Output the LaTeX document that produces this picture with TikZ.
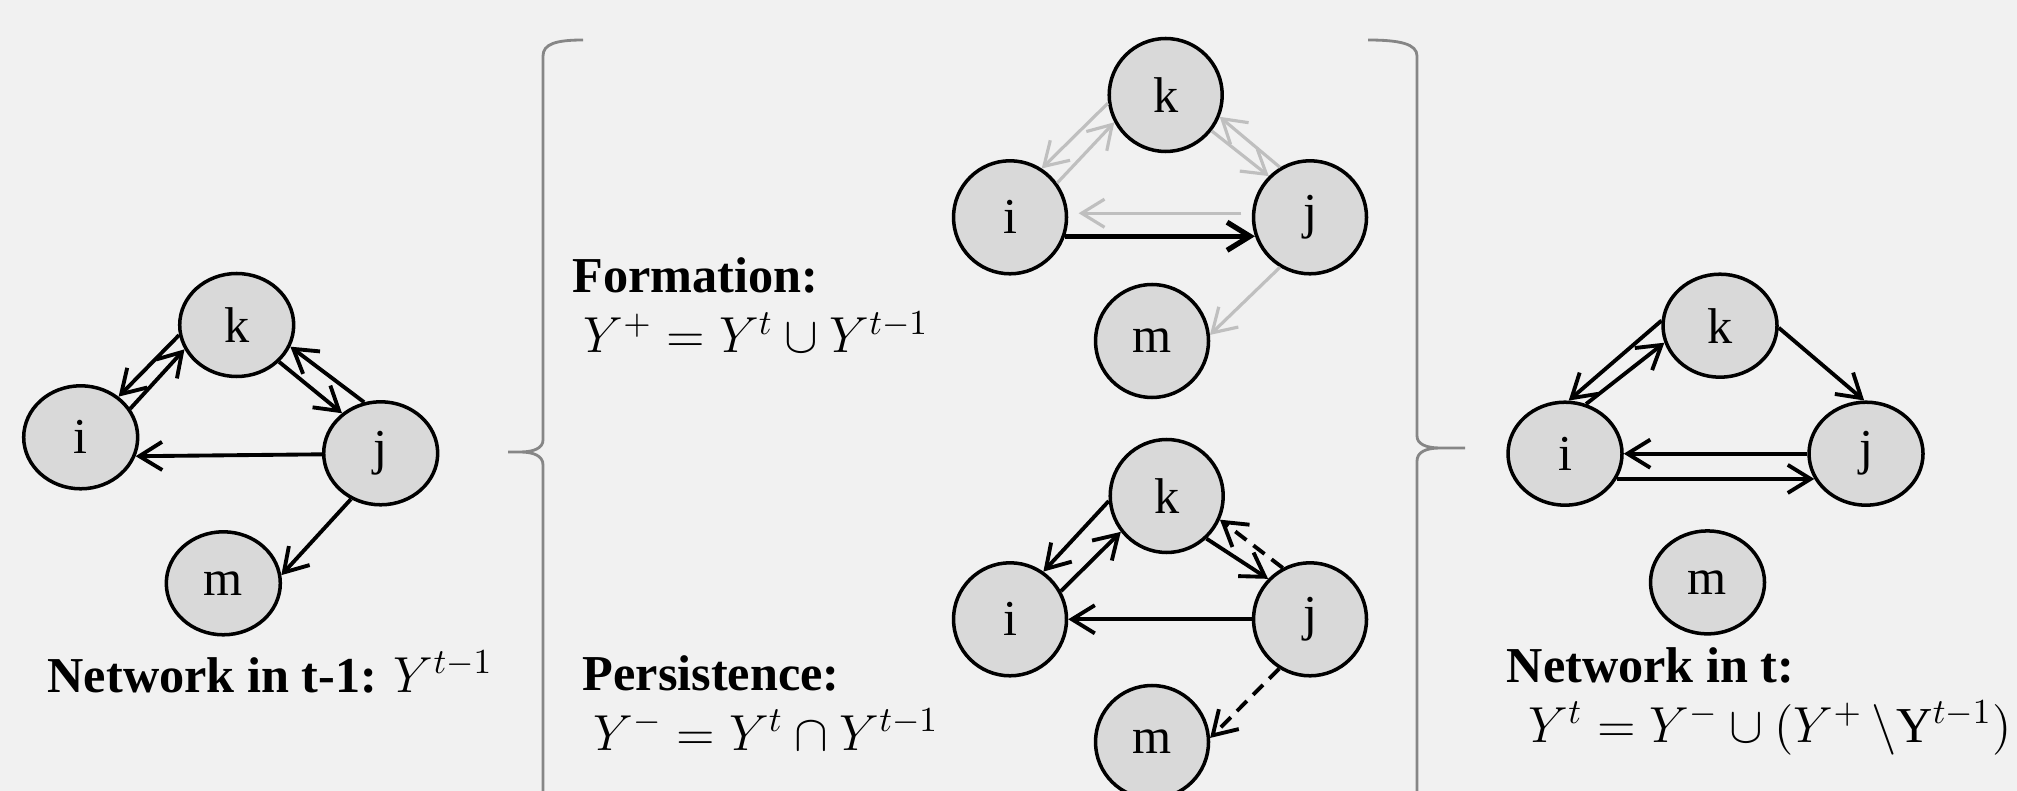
\documentclass[tikz,border=0pt]{standalone}
\usepackage{amsmath}
\usepackage{fontspec}
\setmainfont{Liberation Serif}
\usepackage{tikz}
\usetikzlibrary{arrows.meta, shapes.geometric}
\definecolor{bgGray}{HTML}{F1F1F1}
\definecolor{nodeGray}{HTML}{D9D9D9}
\definecolor{edgeGray}{HTML}{BFBFBF}
\definecolor{braceGray}{HTML}{868686}

\begin{document}
\begin{tikzpicture}[x=0.1mm, y=-0.1mm, font=\fontsize{14.3}{17}\selectfont,
    >={Straight Barb[length=6.5pt, width=8pt]},
    actor/.style={ellipse, draw, line width=1pt, fill=nodeGray, minimum width=11.4mm, minimum height=10.3mm, inner sep=0pt},
    actor round/.style={actor, minimum width=11.3mm, minimum height=11.3mm},
    tie/.style={->, line width=1.1pt},
    old tie/.style={tie, draw=edgeGray, line width=0.9pt},
    new tie/.style={tie, line width=1.5pt},
    lbl/.style={anchor=base west, inner sep=0pt}]
    \path[use as bounding box, fill=bgGray] (0,0) rectangle (2017,791);

    % network in t-1
    \foreach \n/\x/\y in {i/80.7/437.3, j/380.7/453.3, k/236.7/325, m/223.3/583.3}
      \node[actor] (prev\n) at (\x,\y) {\n};
    \draw[tie] (prevk.190) -- (previ.47);
    \draw[tie] (previ.30) -- (prevk.205);
    \draw[tie] (prevk.319) -- (prevj.134);
    \draw[tie] (prevj.108) -- (prevk.338);
    \draw[tie] (prevj.181) -- (previ.341);
    \draw[tie] (prevj.237) -- (prevm.8);
    \node[lbl] (labprev) at (47,692) {\textbf{Network in t-1:} $Y^{t-1}$};

    % braces
    \draw[braceGray, line width=0.8pt] (583,40) .. controls (556,40) and (543,44) .. (543,56) -- (543,440)
      .. controls (543,448) and (534,452) .. (520,452) -- (508,452) -- (520,452)
      .. controls (534,452) and (543,456) .. (543,465) -- (543,800);
    \draw[braceGray, line width=0.8pt] (1368,40) .. controls (1400,40) and (1417,44) .. (1417,56) -- (1417,436)
      .. controls (1417,444) and (1426,448) .. (1440,448) -- (1465,448) -- (1440,448)
      .. controls (1426,448) and (1417,452) .. (1417,461) -- (1417,800);

    % formation
    \node[lbl] (labform) at (572,293) {\textbf{Formation:}};
    \node[lbl] (eqform) at (583,353) {\fontsize{14.8}{17}\selectfont$Y^+ = Y^t \cup Y^{t-1}$};
    \foreach \n/\x/\y in {i/1010/217.3, j/1310/217.3, k/1165.7/95, m/1152/341}
      \node[actor round] (form\n) at (\x,\y) {\n};
    \draw[old tie] (formk.188) -- (formi.57);
    \draw[old tie] (formi.36) -- (formk.208);
    \draw[old tie] (formk.322) -- (formj.135);
    \draw[old tie] (formj.121) -- (formk.338);
    \draw[old tie, shorten <=3pt, shorten >=3pt] (formj.176) -- (formi.4);
    \draw[new tie] (formi.341) -- (formj.199);
    \draw[old tie] (formj.239) -- (formm.6);

    % persistence
    \node[lbl] (labpers) at (582,690) {\textbf{Persistence:}};
    \node[lbl] (eqpers) at (593,750) {\fontsize{14.8}{17}\selectfont$Y^- = Y^t \cap Y^{t-1}$};
    \foreach \n/\x/\y in {i/1010/619.3, j/1310/619.3, k/1166.7/496, m/1152/742}
      \node[actor round] (pers\n) at (\x,\y) {\n};
    \draw[tie] (persk.185) -- (persi.55);
    \draw[tie] (persi.29) -- (persk.218);
    \draw[tie] (persk.313) -- (persj.136);
    \draw[tie, dash pattern=on 4pt off 2.5pt] (persj.118) -- (persk.336);
    \draw[tie] (persj.west) -- (persi.east);
    \draw[tie, dash pattern=on 4pt off 2.5pt] (persj.238) -- (persm.4);

    % network in t
    \foreach \n/\x/\y in {i/1565/453.7, j/1866/453.7, k/1720/325.7, m/1707.5/582.4}
      \node[actor] (now\n) at (\x,\y) {\n};
    \draw[tie] (nowk.175) -- (nowi.86);
    \draw[tie] (nowi.67) -- (nowk.197);
    \draw[tie] (nowk.358) -- (nowj.92);
    \draw[tie] (nowj.west) -- (nowi.east);
    \draw[tie] (nowi.334) -- (nowj.206);
    \node[lbl] (labnow) at (1506,682) {\textbf{Network in t:}};
    \node[lbl] (eqnow) at (1528,742) {$Y^t = Y^- \cup (Y^+\,\backslash\mathrm{Y}^{t-1})$};
\end{tikzpicture}
\end{document}
